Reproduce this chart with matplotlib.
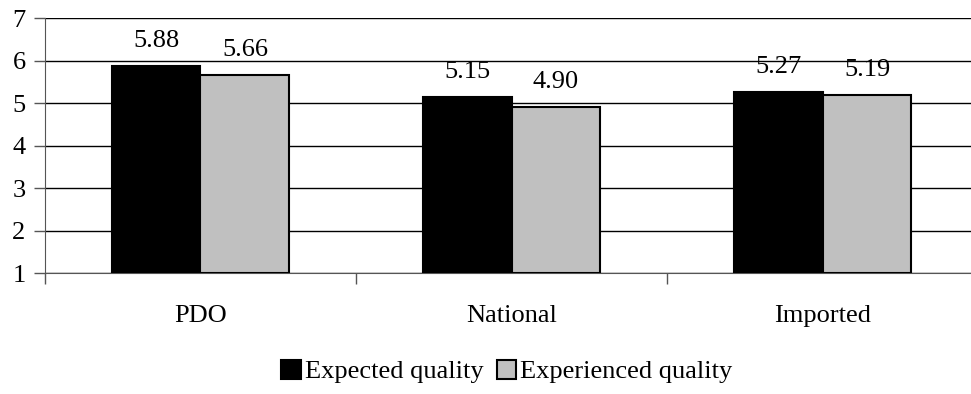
import matplotlib.pyplot as plt
import numpy as np

plt.rcParams['font.family'] = ['Liberation Serif', 'DejaVu Serif']

categories = ["PDO", "National", "Imported"]
expected = [5.88, 5.15, 5.27]
experienced = [5.66, 4.90, 5.19]

fig = plt.figure(figsize=(9.71, 3.94), dpi=100)
ax = fig.add_axes([0.0463, 0.307, 0.961, 0.647])

x = np.arange(len(categories))
w = 1 / 3.5  # gap width 150%
base = 1

bars1 = ax.bar(x - w / 2, np.array(expected) - base, w, bottom=base,
               color="black", edgecolor="black", linewidth=1.5,
               label="Expected quality", zorder=3)
bars2 = ax.bar(x + w / 2, np.array(experienced) - base, w, bottom=base,
               color="#C0C0C0", edgecolor="black", linewidth=1.5,
               label="Experienced quality", zorder=3)

# value labels above each bar
for bars, vals in ((bars1, expected), (bars2, experienced)):
    for b, v in zip(bars, vals):
        ax.annotate(f"{v:.2f}", (b.get_x() + b.get_width() / 2, v),
                    xytext=(0, 10), textcoords="offset points",
                    ha="center", va="bottom", fontsize=19, zorder=4)

ax.set_ylim(1, 7)
ax.set_xlim(-0.5, 2.5)
ax.set_yticks(range(1, 8))
ax.yaxis.grid(True, color="black", linewidth=1, zorder=0)

ax.set_xticks(x)
ax.set_xticklabels(categories)
ax.set_xticks(np.arange(-0.5, 3, 1), minor=True)
ax.tick_params(axis="x", which="major", length=0, pad=23, labelsize=19)
ax.tick_params(axis="x", which="minor", length=8, width=1, color="#555555")
ax.tick_params(axis="y", length=8, width=1, pad=6, labelsize=19,
               color="#555555")

for s in ("top", "right"):
    ax.spines[s].set_visible(False)
ax.spines["left"].set_color("#555555")
ax.spines["bottom"].set_color("#555555")

fig.legend(loc="center", bbox_to_anchor=(0.522, 0.057), ncol=2, frameon=False,
           fontsize=19, handlelength=0.75, handleheight=0.75,
           handletextpad=0.15, columnspacing=0.5)

fig.savefig("out.png", dpi=100)
